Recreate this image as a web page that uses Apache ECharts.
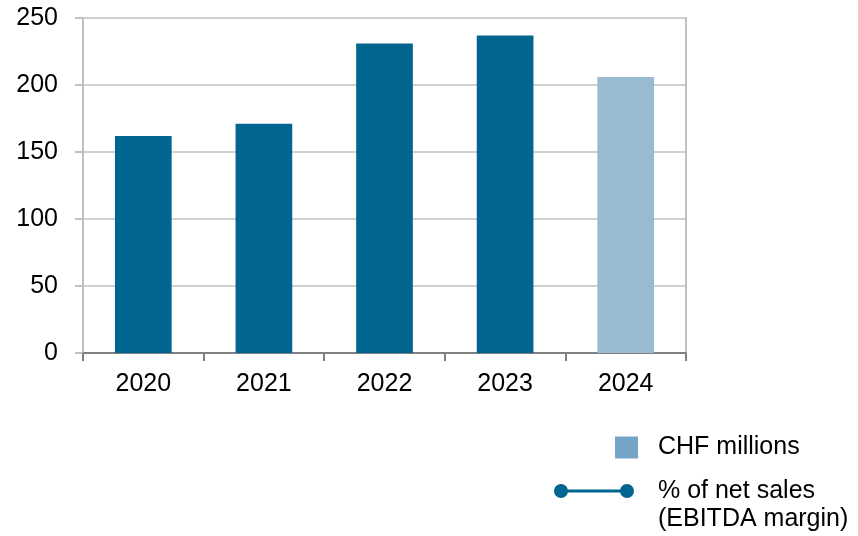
<!DOCTYPE html>
<html>
<head>
<meta charset="utf-8">
<script src="https://cdn.jsdelivr.net/npm/echarts@6/dist/echarts.min.js"></script>
<style>html,body{margin:0;padding:0;background:#fff}#c{width:858px;height:536px}</style>
</head>
<body>
<div id="c"></div>
<script>
const categories = ['2020', '2021', '2022', '2023', '2024'];
const ebitdaChf = [162, 171, 231, 237, 206];
const ebitdaMargin = [];
const yTicks = { min: 0, max: 250, interval: 50 };
const barName = 'CHF millions';
const lineName = '% of net sales';
const lineNameSub = '(EBITDA margin)';

const dark = '#00658f';
const light = '#99bbd2';
const font = '"Liberation Sans", Arial, sans-serif';

const chart = echarts.init(document.getElementById('c'), null, { renderer: 'canvas' });
chart.setOption({
  animation: false,
  backgroundColor: '#fff',
  grid: { left: 83, right: 172, top: 18, bottom: 183, containLabel: false },
  xAxis: {
    type: 'category',
    data: categories,
    axisLine: { lineStyle: { color: '#808080', width: 2 } },
    axisTick: { show: true, length: 8, lineStyle: { color: '#808080', width: 2 } },
    axisLabel: { color: '#000', fontSize: 25, fontFamily: font, margin: 19 }
  },
  yAxis: [{
    type: 'value',
    min: yTicks.min, max: yTicks.max, interval: yTicks.interval,
    axisLine: { show: true, lineStyle: { color: '#c0c0c0', width: 2 } },
    axisTick: { show: true, length: 8, lineStyle: { color: '#c0c0c0', width: 2 } },
    splitLine: { lineStyle: { color: '#c0c0c0', width: 1.5 } },
    axisLabel: { color: '#000', fontSize: 25, fontFamily: font, margin: 25 }
  }, {
    type: 'value',
    position: 'right',
    min: 0, max: 1,
    axisLine: { show: true, lineStyle: { color: '#c0c0c0', width: 2 } },
    axisTick: { show: false },
    axisLabel: { show: false },
    splitLine: { show: false }
  }],
  legend: [{
    data: [{ name: barName, icon: 'rect', itemStyle: { color: '#74a5c6' } }],
    left: 610, top: 430,
    orient: 'vertical',
    itemWidth: 23, itemHeight: 22,
    textStyle: { color: '#000', fontSize: 25, fontFamily: font, padding: [0, 0, 0, 15] },
    selectedMode: false
  }, {
    data: [{ name: lineName,
      icon: 'path://M0,7a7,7 0 1,1 14,0a7,7 0 1,1 -14,0Z M66,7a7,7 0 1,1 14,0a7,7 0 1,1 -14,0Z M7,5.5h66v3h-66Z',
      itemStyle: { color: dark } }],
    left: 549, top: 471,
    orient: 'vertical',
    itemWidth: 80, itemHeight: 14,
    textStyle: { color: '#000', fontSize: 25, fontFamily: font, lineHeight: 30, padding: [0, 0, 0, 19] },
    selectedMode: false
  }],
  graphic: [{
    type: 'text',
    left: 658, top: 507,
    style: { text: lineNameSub, fill: '#000', font: '25px ' + font }
  }],
  series: [{
    name: barName,
    type: 'bar',
    barWidth: '47%',
    data: ebitdaChf.map((v, i) => ({
      value: v,
      itemStyle: { color: i === ebitdaChf.length - 1 ? light : dark }
    })),
    itemStyle: { color: dark }
  }, {
    name: lineName,
    type: 'line',
    yAxisIndex: 1,
    data: ebitdaMargin,
    color: dark,
    symbol: 'circle',
    symbolSize: 14,
    lineStyle: { color: dark, width: 3 }
  }]
});
</script>
</body>
</html>
